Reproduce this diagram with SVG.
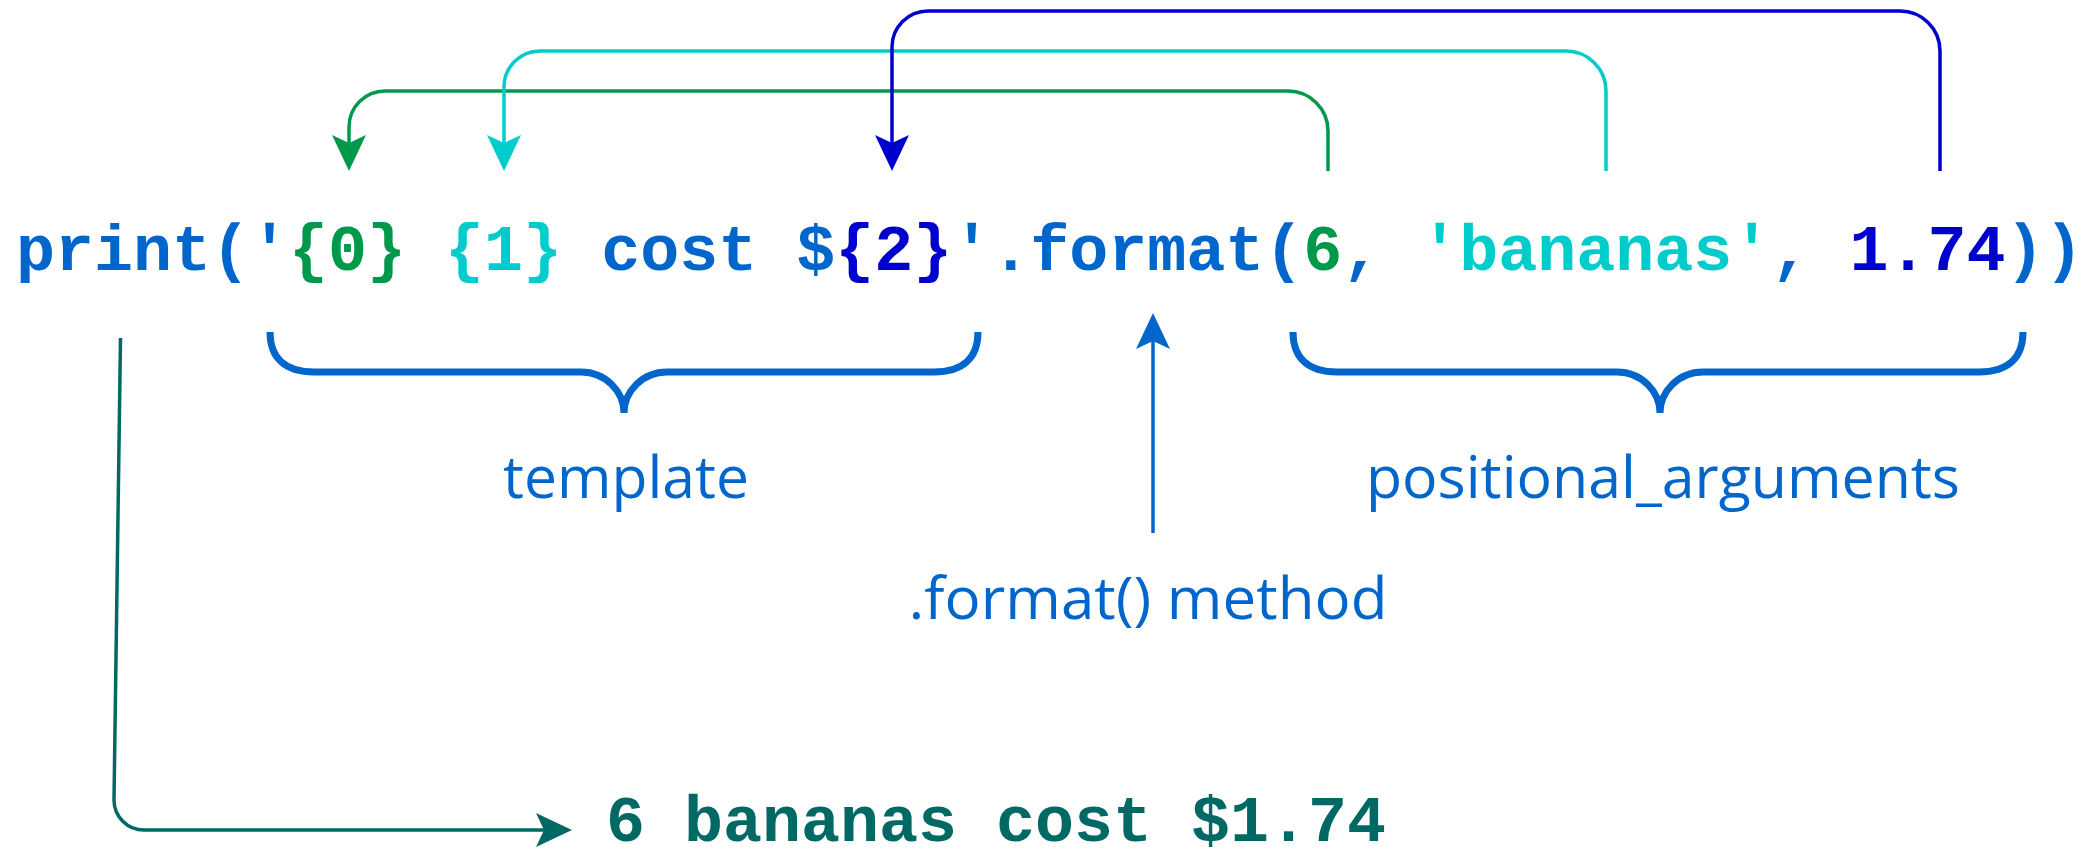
<svg xmlns="http://www.w3.org/2000/svg" width="2089" height="861" viewBox="0 0 2089 861">
<style>
.code{font-family:"Liberation Mono","Courier New",monospace;font-weight:bold;font-size:65px;white-space:pre}
.lbl{font-family:"Open Sans","Noto Sans",sans-serif;font-size:58px;fill:#0066CC}
.b{fill:#0066CC}.g{fill:#00994C}.c{fill:#00CCCC}.d{fill:#0000CC}.t{fill:#006963}
.ln{fill:none;stroke-width:3.5;stroke-linejoin:round}
.brace{fill:none;stroke:#0066CC;stroke-width:7}
</style>
<defs>
<marker id="ag" viewBox="0 0 36 36" refX="8" refY="18" markerWidth="36" markerHeight="36" markerUnits="userSpaceOnUse" orient="auto"><path d="M0,1 L36,18 L0,35 L8,18 Z" fill="#00994C"/></marker>
<marker id="ac" viewBox="0 0 36 36" refX="8" refY="18" markerWidth="36" markerHeight="36" markerUnits="userSpaceOnUse" orient="auto"><path d="M0,1 L36,18 L0,35 L8,18 Z" fill="#00CCCC"/></marker>
<marker id="ad" viewBox="0 0 36 36" refX="8" refY="18" markerWidth="36" markerHeight="36" markerUnits="userSpaceOnUse" orient="auto"><path d="M0,1 L36,18 L0,35 L8,18 Z" fill="#0000CC"/></marker>
<marker id="ab" viewBox="0 0 36 36" refX="8" refY="18" markerWidth="36" markerHeight="36" markerUnits="userSpaceOnUse" orient="auto"><path d="M0,1 L36,18 L0,35 L8,18 Z" fill="#0066CC"/></marker>
<marker id="at" viewBox="0 0 36 36" refX="8" refY="18" markerWidth="36" markerHeight="36" markerUnits="userSpaceOnUse" orient="auto"><path d="M0,1 L36,18 L0,35 L8,18 Z" fill="#006963"/></marker>
</defs>
<rect width="2089" height="861" fill="#FFFFFF"/>

<g id="code-line">
<text class="code" x="16" y="270"><tspan class="b">print('</tspan><tspan class="g">{0}</tspan><tspan class="b"> </tspan><tspan class="c">{1}</tspan><tspan class="b"> cost $</tspan><tspan class="d">{2}</tspan><tspan class="b">'.format(</tspan><tspan class="g">6</tspan><tspan class="b">, </tspan><tspan class="c">'bananas'</tspan><tspan class="b">, </tspan><tspan class="d">1.74</tspan><tspan class="b">))</tspan></text>
</g>

<g id="template">
<path class="brace" d="M270,332 C270,358 285,372 314,372 H581 C606,372 624,392 624,413 C624,392 642,372 667,372 H934 C963,372 978,358 978,332"/>
<text class="lbl" x="626" y="498" text-anchor="middle" textLength="246" lengthAdjust="spacingAndGlyphs">template</text>
</g>

<g id="positional-arguments">
<path class="brace" d="M1293,332 C1293,358 1308,372 1337,372 H1617 C1642,372 1660,392 1660,413 C1660,392 1678,372 1703,372 H1979 C2008,372 2023,358 2023,332"/>
<text class="lbl" x="1663" y="498" text-anchor="middle" textLength="594" lengthAdjust="spacingAndGlyphs">positional_arguments</text>
</g>

<g id="format-method">
<text class="lbl" x="1148" y="619" text-anchor="middle" textLength="479" lengthAdjust="spacingAndGlyphs">.format() method</text>
</g>

<g id="output">
<text class="code t" x="606" y="841">6 bananas cost $1.74</text>
</g>

<g id="connectors">
<path class="ln" stroke="#00994C" d="M1328,171 V131 A40,40 0 0 0 1288,91 H385 A36,36 0 0 0 349,127 V143" marker-end="url(#ag)"/>
<path class="ln" stroke="#00CCCC" d="M1606,171 V91 A40,40 0 0 0 1566,51 H540 A36,36 0 0 0 504,87 V143" marker-end="url(#ac)"/>
<path class="ln" stroke="#0000CC" d="M1940,171 V51 A40,40 0 0 0 1900,11 H928 A36,36 0 0 0 892,47 V143" marker-end="url(#ad)"/>
<path class="ln" stroke="#0066CC" d="M1153,533 V341" marker-end="url(#ab)"/>
<path class="ln" stroke="#006963" d="M120.5,338 L114,800 A30,30 0 0 0 144,830 H544" marker-end="url(#at)"/>
</g>
</svg>
